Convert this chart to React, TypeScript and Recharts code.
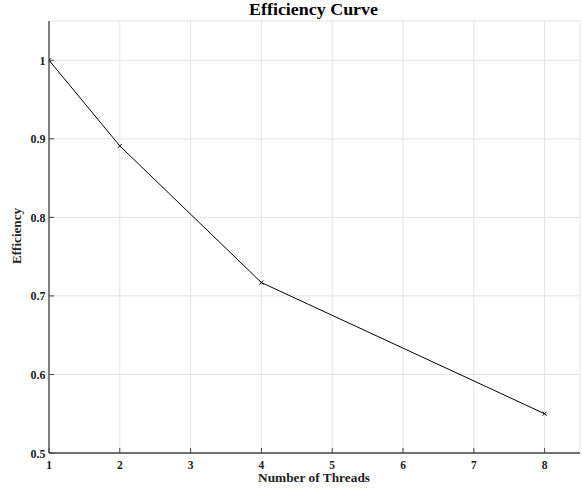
import React from "react";
import { LineChart, Line, XAxis, YAxis, CartesianGrid } from "recharts";

const threads = [1, 2, 4, 8];
const efficiency = [1.0, 0.891, 0.717, 0.55];
const xTicks = [1, 2, 3, 4, 5, 6, 7, 8];
const yTicks = [0.5, 0.6, 0.7, 0.8, 0.9, 1];
const yTickLabels = ["0.5", "0.6", "0.7", "0.8", "0.9", "1"];

const data = threads.map((t, i) => ({ x: t, y: efficiency[i] }));

const AXIS = "#444444";
const FONT = "'Liberation Serif', 'Times New Roman', serif";
const TL = 5;

const BottomTick = (props: any) => {
  const { x, y, payload } = props;
  return (
    <g>
      <line x1={x} y1={y} x2={x} y2={y - TL} stroke={AXIS} strokeWidth={1} />
      <text x={x} y={y + 16} textAnchor="middle" fontFamily={FONT} fontWeight="bold" fontSize={11.5} fill="#222">
        {payload.value}
      </text>
    </g>
  );
};
const TopTick = (props: any) => {
  const { x, y } = props;
  return <line x1={x} y1={y} x2={x} y2={y + TL} stroke={AXIS} strokeWidth={1} />;
};
const LeftTick = (props: any) => {
  const { x, y, payload } = props;
  const idx = yTicks.findIndex((v) => Math.abs(v - payload.value) < 1e-9);
  return (
    <g>
      <line x1={x} y1={y} x2={x + TL} y2={y} stroke={AXIS} strokeWidth={1} />
      <text x={x - 3.5} y={y + 4.5} textAnchor="end" fontFamily={FONT} fontWeight="bold" fontSize={12} fill="#222">
        {idx >= 0 ? yTickLabels[idx] : payload.value}
      </text>
    </g>
  );
};
const RightTick = (props: any) => {
  const { x, y } = props;
  return <line x1={x} y1={y} x2={x - TL} y2={y} stroke={AXIS} strokeWidth={1} />;
};

const XMark = (props: any) => {
  const { cx, cy } = props;
  const s = 2;
  return (
    <g>
      <line x1={cx - s} y1={cy - s} x2={cx + s} y2={cy + s} stroke="#000" strokeWidth={1} />
      <line x1={cx - s} y1={cy + s} x2={cx + s} y2={cy - s} stroke="#000" strokeWidth={1} />
    </g>
  );
};

export default function App() {
  return (
    <div style={{ position: "absolute", left: 0, top: 0, width: 582, height: 493, background: "#fff" }}>
      <svg width={582} height={493} style={{ position: "absolute", left: 0, top: 0, pointerEvents: "none", zIndex: 2 }}>
        <text
          x={313.5}
          y={15}
          textAnchor="middle"
          fontFamily={FONT}
          fontWeight="bold"
          fontSize={16}
          fill="#000"
          textLength={129}
          lengthAdjust="spacingAndGlyphs"
        >
          Efficiency Curve
        </text>
        <text
          x={314}
          y={482}
          textAnchor="middle"
          fontFamily={FONT}
          fontWeight="bold"
          fontSize={12}
          fill="#222"
          textLength={112}
          lengthAdjust="spacingAndGlyphs"
        >
          Number of Threads
        </text>
        <text
          x={0}
          y={0}
          transform="translate(21,236) rotate(-90)"
          textAnchor="middle"
          fontFamily={FONT}
          fontWeight="bold"
          fontSize={12}
          fill="#222"
          textLength={56}
          lengthAdjust="spacingAndGlyphs"
        >
          Efficiency
        </text>
      </svg>
      <LineChart width={582} height={493} data={data} margin={{ top: 21, right: 2, bottom: 0, left: 0 }}>
        <CartesianGrid stroke="#e3e3e3" strokeWidth={1} />
        <XAxis
          dataKey="x"
          type="number"
          domain={[1, 8.5]}
          ticks={xTicks}
          allowDataOverflow
          height={40}
          tickSize={0}
          tickMargin={0}
          tickLine={false}
          axisLine={{ stroke: AXIS, strokeWidth: 1.3 }}
          tick={<BottomTick />}
          interval={0}
        />
        <XAxis
          xAxisId="top"
          orientation="top"
          dataKey="x"
          type="number"
          domain={[1, 8.5]}
          ticks={xTicks}
          allowDataOverflow
          height={0}
          tickSize={0}
          tickMargin={0}
          tickLine={false}
          axisLine={{ stroke: AXIS, strokeWidth: 1.3 }}
          tick={<TopTick />}
          interval={0}
        />
        <YAxis
          type="number"
          domain={[0.5, 1.05]}
          ticks={yTicks}
          allowDataOverflow
          width={49}
          tickSize={0}
          tickMargin={0}
          tickLine={false}
          axisLine={{ stroke: AXIS, strokeWidth: 1.3 }}
          tick={<LeftTick />}
          interval={0}
        />
        <YAxis
          yAxisId="right"
          orientation="right"
          type="number"
          domain={[0.5, 1.05]}
          ticks={yTicks}
          allowDataOverflow
          width={0}
          tickSize={0}
          tickMargin={0}
          tickLine={false}
          axisLine={{ stroke: AXIS, strokeWidth: 1.3 }}
          tick={<RightTick />}
          interval={0}
        />
        <Line
          dataKey="y"
          stroke="#000"
          strokeWidth={1}
          dot={<XMark />}
          activeDot={false}
          isAnimationActive={false}
        />
      </LineChart>
    </div>
  );
}
